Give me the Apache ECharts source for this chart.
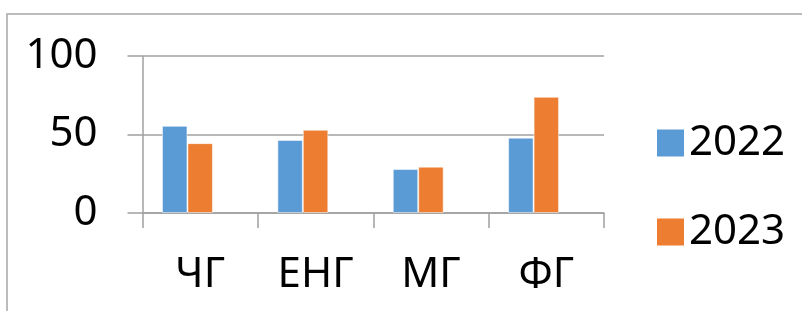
<!DOCTYPE html>
<html>
<head>
<meta charset="utf-8">
<script src="https://cdn.jsdelivr.net/npm/echarts@6/dist/echarts.min.js"></script>
<style>
  html, body { margin: 0; padding: 0; background: #fff; }
  #chart { width: 802px; height: 311px; }
</style>
</head>
<body>
<div id="chart"></div>
<script>
var categories = ['ЧГ', 'ЕНГ', 'МГ', 'ФГ']
var values2022 = [55.5, 46.5, 28, 48]
var values2023 = [44.5, 53, 29.5, 74]
// third (empty) series of the original sheet, keeps the bars shifted left
var valuesEmpty = [null, null, null, null]
var yTicks = [0, 50, 100]

var fontFam = 'Noto Sans, Open Sans, sans-serif'
var chart = echarts.init(document.getElementById('chart'))

var options = {
  animation: false,
  color: ['#5b9bd5', '#ed7d31', '#a5a5a5'],
  graphic: [{
    type: 'rect',
    shape: { x: 7, y: 14, width: 820, height: 320 },
    style: { fill: 'none', stroke: '#a6a6a6', lineWidth: 1.5 }
  }],
  legend: {
    data: ['2022', '2023'],
    orient: 'vertical',
    left: 652,
    top: 117,
    icon: 'rect',
    itemWidth: 27,
    itemHeight: 27,
    itemGap: 47,
    itemTextGap: 11,
    itemStyle: { borderWidth: 0 },
    textStyle: {
      fontFamily: fontFam,
      fontSize: 42,
      lineHeight: 27,
      color: '#000'
    }
  },
  grid: {
    left: 142.5,
    right: 198,
    top: 56,
    bottom: 98
  },
  xAxis: {
    type: 'category',
    data: categories,
    axisLine: { lineStyle: { color: '#a0a0a0', width: 1.5 } },
    axisTick: { show: true, length: 15, lineStyle: { color: '#a0a0a0', width: 1.5 } },
    axisLabel: {
      margin: 41,
      fontFamily: fontFam,
      fontSize: 42,
      color: '#000'
    }
  },
  yAxis: {
    type: 'value',
    min: 0,
    max: yTicks[yTicks.length - 1],
    interval: 50,
    axisLine: { show: true, lineStyle: { color: '#a0a0a0', width: 1.5 } },
    axisTick: { show: true, length: 15, lineStyle: { color: '#a0a0a0', width: 1.5 } },
    splitLine: { lineStyle: { color: '#a0a0a0', width: 1.5 } },
    axisLabel: {
      margin: 45,
      fontFamily: fontFam,
      fontSize: 42,
      color: '#000'
    }
  },
  series: [{
    name: '2022',
    type: 'bar',
    data: values2022,
    barGap: '0%',
    barCategoryGap: '33.8%',
    itemStyle: { borderColor: 'rgba(255,255,255,0.5)', borderWidth: 1 }
  }, {
    name: '2023',
    type: 'bar',
    data: values2023,
    itemStyle: { borderColor: 'rgba(255,255,255,0.5)', borderWidth: 1 }
  }, {
    name: 'Ряд 3',
    type: 'bar',
    data: valuesEmpty
  }]
}
chart.setOption(options)
</script>
</body>
</html>
